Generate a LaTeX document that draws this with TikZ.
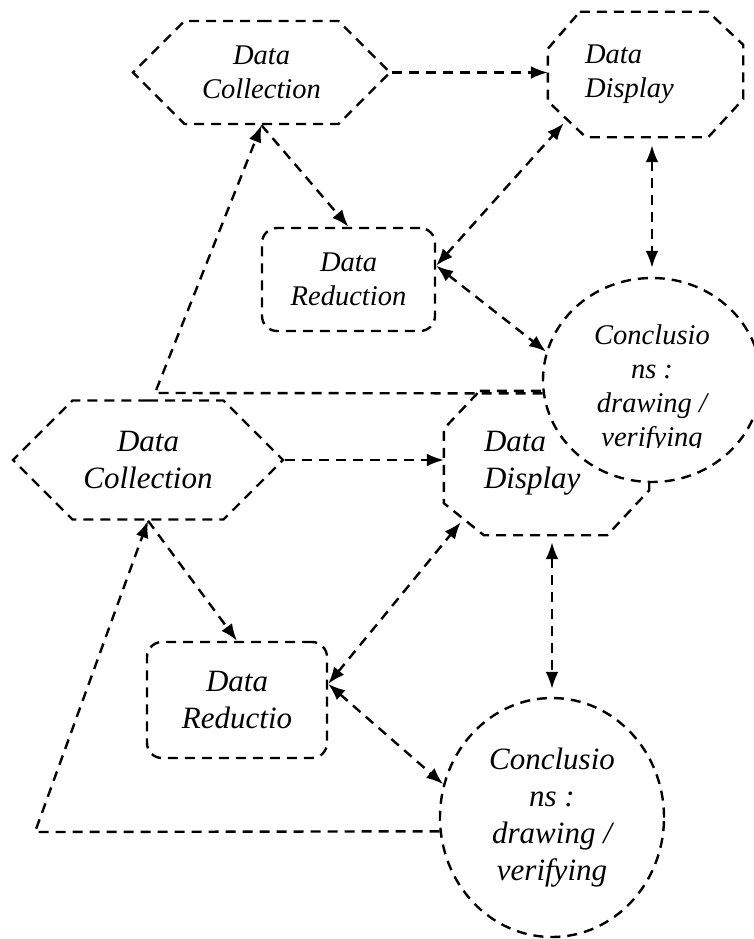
\documentclass[tikz,border=0pt]{standalone}
\usepackage{fontspec}
\setmainfont{Liberation Serif}
\usepackage{tikz}
\usetikzlibrary{shapes.geometric,shapes.symbols,arrows.meta,calc}

\begin{document}
\begin{tikzpicture}[x=1pt,y=-1pt,>={Latex[length=17pt,width=13pt]},line width=2.4pt,dash pattern=on 10pt off 7pt,
                    small text/.style={font=\fontsize{28.5}{34}\selectfont\itshape},
                    big text/.style={font=\fontsize{31}{37}\selectfont\itshape},
                    collect node/.style={signal,signal to=west and east,signal pointer angle=90,draw,inner sep=0pt,align=center},
                    display node/.style={rectangle,inner sep=0pt,align=left},
                    reduce node/.style={rectangle,rounded corners=15pt,draw,inner sep=0pt,align=center},
                    concl node/.style={ellipse,draw,fill=white,inner sep=0pt,align=center}]
  \useasboundingbox (0,0) rectangle (754,939);

  % lower copy
  \node[collect node,big text,minimum width=270pt,minimum height=119pt] (dc2) at (148,460) {Data\\Collection};
  \node[display node,big text,minimum width=203pt,minimum height=142pt,text width=125pt] (dd2) at (546.5,463) {Data\\Display};
  \draw ($(dd2.north west)+(36,0)$) -- ($(dd2.north east)+(-40,0)$) -- ($(dd2.north east)+(0,40)$)
     -- ($(dd2.south east)+(0,-45)$) -- ($(dd2.south east)+(-42,0)$) -- ($(dd2.south west)+(40,0)$)
     -- ($(dd2.south west)+(0,-32)$) -- ($(dd2.north west)+(0,38)$) -- cycle;
  \node[reduce node,big text,minimum width=180pt,minimum height=116pt] (dr2) at (237,700) {Data\\Reductio};
  \node[concl node,big text,minimum width=224pt,minimum height=239pt] (cc2) at (552,817.5) {Conclusio\\ns :\\drawing /\\verifying};
  \coordinate (dd2 corner) at ($(dd2.south west)+(17,-13)$);
  \coordinate (fb2) at (35,832);

  \draw[->] (dc2.east) -- (dc2.east -| dd2.west);
  \draw[->] (dc2.south) -- (dr2.north);
  \draw[<->] (dr2.10) -- (dd2 corner);
  \draw[<->] (dr2.10) -- (cc2.163);
  \draw[<->,shorten <=7pt,shorten >=8pt] (cc2.north |- dd2.south) -- (cc2.north);
  \draw[->] (cc2.187) -- (fb2) -- (dc2.south);

  % upper copy
  \node[collect node,small text,minimum width=257pt,minimum height=103pt] (dc1) at (261.5,72.5) {Data\\Collection};
  \node[display node,small text,minimum width=193pt,minimum height=123pt,text width=121pt] (dd1) at (645.5,74.5) {Data\\Display};
  \draw ($(dd1.north west)+(32,0)$) -- ($(dd1.north east)+(-35,0)$) -- ($(dd1.north east)+(0,33)$)
     -- ($(dd1.south east)+(0,-38)$) -- ($(dd1.south east)+(-35,0)$) -- ($(dd1.south west)+(38,0)$)
     -- ($(dd1.south west)+(0,-36)$) -- ($(dd1.north west)+(0,37)$) -- cycle;
  \node[reduce node,small text,minimum width=173pt,minimum height=103pt] (dr1) at (348.5,279.5) {Data\\Reduction};
  \node[concl node,minimum width=218pt,minimum height=204pt] (cc1) at (652,380) {};
  \begin{scope}
    \clip (540,280) rectangle (754,447);
    \node[small text,align=center] (cc1text) at (652,389) {Conclusio\\ns :\\drawing /\\verifying};
  \end{scope}
  \coordinate (dd1 corner) at ($(dd1.south west)+(16,-14)$);
  \coordinate (fb1) at (155,393);

  \draw[->] (dc1.east) -- (dc1.east -| dd1.west);
  \draw[->] (dc1.south) -- (dr1.north);
  \draw[<->] (dr1.9) -- (dd1 corner);
  \draw[<->] (dr1.9) -- (cc1.165);
  \draw[<->,shorten <=8pt,shorten >=9pt] (cc1.north |- dd1.south) -- (cc1.north);
  \draw[->] (cc1.187) -- (fb1) -- (dc1.south);
\end{tikzpicture}
\end{document}
